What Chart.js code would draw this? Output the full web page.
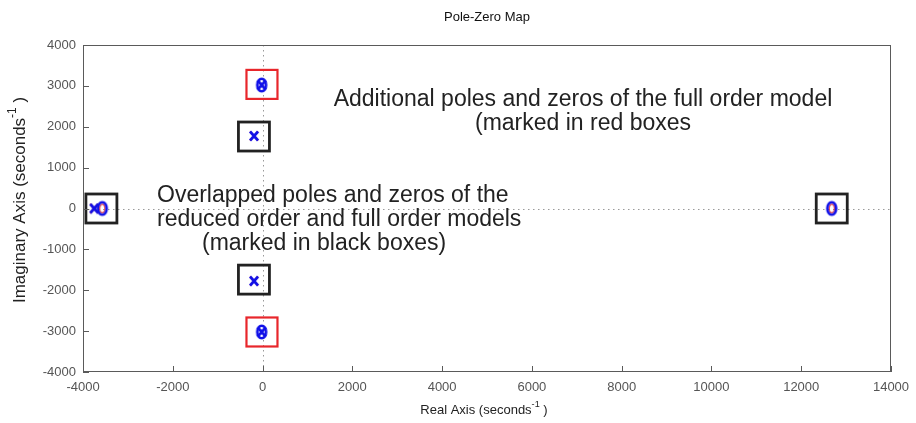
<!DOCTYPE html>
<html lang="en">
<head>
<meta charset="UTF-8">
<title>Pole-Zero Map</title>
<script src="https://cdn.jsdelivr.net/npm/chart.js"></script>
<style>
  body { margin: 0; background: #fff; }
</style>
</head>
<body>
<canvas id="pzmap" width="916" height="423"></canvas>
<script>
// full order model
const fullPolesRe = [-3750, -190, -190, -20, -20];
const fullPolesIm = [0, 1775, -1775, 3020, -3020];
const fullZerosRe = [-3570, -20, -20, 12680];
const fullZerosIm = [0, 3020, -3020, 0];
// reduced order model
const redPolesRe = [-3750, -190, -190];
const redPolesIm = [0, 1775, -1775];
const redZerosRe = [-3570, 12680];
const redZerosIm = [0, 0];

const xTicks = [-4000, -2000, 0, 2000, 4000, 6000, 8000, 10000, 12000, 14000];
const yTicks = [-4000, -3000, -2000, -1000, 0, 1000, 2000, 3000, 4000];

// highlight boxes: centre (re, im) and colour
const boxRe = [-3590, -13, -192, -192, -13, 12680];
const boxIm = [0, 3036, 1761, -1740, -3021, 0];
const boxColor = ['#222', '#e8262b', '#222', '#222', '#e8262b', '#222'];

const notes = [
  { text: 'Additional poles and zeros of the full order model', x: 583, y: 106, align: 'center' },
  { text: '(marked in red boxes', x: 583, y: 130, align: 'center' },
  { text: 'Overlapped poles and zeros of the', x: 157, y: 202, align: 'left' },
  { text: 'reduced order and full order models', x: 157, y: 226, align: 'left' },
  { text: '(marked in black boxes)', x: 202, y: 250, align: 'left' }
];

function pts(re, im) {
  return re.map((r, i) => ({ x: r, y: im[i] }));
}

function crossImg(color, w) {
  const c = document.createElement('canvas');
  c.width = 12; c.height = 12;
  const g = c.getContext('2d');
  g.strokeStyle = color; g.lineWidth = w; g.lineCap = 'butt';
  g.beginPath();
  g.moveTo(2, 1.5); g.lineTo(10, 10.5);
  g.moveTo(10, 1.5); g.lineTo(2, 10.5);
  g.stroke();
  return c;
}

function ringImg(color, rx, ry, w) {
  const c = document.createElement('canvas');
  c.width = 16; c.height = 18;
  const g = c.getContext('2d');
  g.strokeStyle = color; g.lineWidth = w;
  g.beginPath();
  g.ellipse(8, 9, rx, ry, 0, 0, Math.PI * 2);
  g.stroke();
  return c;
}

const FONT = "'Liberation Sans', Arial, sans-serif";

function supText(ctx, parts, x, y, size) {
  // parts: [before, superscript, after]; centred on x
  ctx.font = size + 'px ' + FONT;
  const w0 = ctx.measureText(parts[0]).width;
  const w2 = ctx.measureText(parts[2]).width;
  ctx.font = (size * 0.7) + 'px ' + FONT;
  const w1 = ctx.measureText(parts[1]).width;
  let cx = x - (w0 + w1 + w2) / 2;
  ctx.textAlign = 'left';
  ctx.textBaseline = 'middle';
  ctx.font = size + 'px ' + FONT;
  ctx.fillText(parts[0], cx, y); cx += w0;
  ctx.font = (size * 0.7) + 'px ' + FONT;
  ctx.fillText(parts[1], cx, y - size * 0.4); cx += w1;
  ctx.font = size + 'px ' + FONT;
  ctx.fillText(parts[2], cx, y);
}

const frame = {
  id: 'frame',
  beforeDatasetsDraw(chart) {
    const { ctx, chartArea: a, scales: { x, y } } = chart;
    ctx.save();
    // dotted lines through the origin
    ctx.strokeStyle = '#9a9a9a';
    ctx.lineWidth = 1;
    ctx.setLineDash([1.5, 3.5]);
    const x0 = Math.round(x.getPixelForValue(0)) + 0.5;
    const y0 = Math.round(y.getPixelForValue(0)) + 0.5;
    ctx.beginPath();
    ctx.moveTo(a.left, y0); ctx.lineTo(a.right, y0);
    ctx.moveTo(x0, a.top); ctx.lineTo(x0, a.bottom);
    ctx.stroke();
    ctx.setLineDash([]);
    // boxes
    boxRe.forEach((r, i) => {
      const px = x.getPixelForValue(r);
      const py = y.getPixelForValue(boxIm[i]);
      ctx.strokeStyle = boxColor[i];
      ctx.lineWidth = boxColor[i] === '#222' ? 2.8 : 2.2;
      ctx.strokeRect(px - 15.5, py - 14.5, 31, 29);
    });
    ctx.restore();
  },
  afterDraw(chart) {
    const { ctx, chartArea: a, scales: { x, y } } = chart;
    ctx.save();
    // axes box and inward ticks
    ctx.strokeStyle = '#5a5a5a';
    ctx.lineWidth = 1;
    ctx.strokeRect(a.left + 0.5, a.top + 0.5, a.right - a.left - 1, a.bottom - a.top - 1);
    ctx.beginPath();
    xTicks.forEach(v => {
      const px = Math.round(x.getPixelForValue(v)) + 0.5;
      ctx.moveTo(px, a.bottom); ctx.lineTo(px, a.bottom - 6);
    });
    yTicks.forEach(v => {
      const py = Math.round(y.getPixelForValue(v)) + 0.5;
      ctx.moveTo(a.left, py); ctx.lineTo(a.left + 6, py);
    });
    ctx.stroke();

    // titles
    ctx.fillStyle = '#111';
    ctx.font = '13px ' + FONT;
    ctx.textAlign = 'center';
    ctx.textBaseline = 'middle';
    ctx.fillText('Pole-Zero Map', (a.left + a.right) / 2, 17);
    ctx.fillStyle = '#222';
    supText(ctx, ['Real Axis (seconds', '-1', ' )'], 484, 410, 13);
    ctx.save();
    ctx.translate(20, 200);
    ctx.rotate(-Math.PI / 2);
    supText(ctx, ['Imaginary Axis (seconds', '-1', ' )'], 0, 0, 17);
    ctx.restore();

    // annotations
    ctx.fillStyle = '#222';
    ctx.font = '23px ' + FONT;
    ctx.textBaseline = 'alphabetic';
    notes.forEach(n => {
      ctx.textAlign = n.align;
      ctx.fillText(n.text, n.x, n.y);
    });
    ctx.restore();
  }
};

new Chart(document.getElementById('pzmap'), {
  type: 'scatter',
  data: {
    datasets: [
      { label: 'Full poles', data: pts(fullPolesRe, fullPolesIm), pointStyle: crossImg('#1010e8', 2.7) },
      { label: 'Full zeros', data: pts(fullZerosRe, fullZerosIm), pointStyle: ringImg('#1010e8', 4.4, 6.2, 2.6) },
      { label: 'Reduced poles', data: pts(redPolesRe, redPolesIm), pointStyle: crossImg('#e8262b', 1.5) },
      { label: 'Reduced zeros', data: pts(redZerosRe, redZerosIm), pointStyle: ringImg('#e8262b', 2.6, 4.4, 1.1) }
    ]
  },
  options: {
    responsive: false,
    animation: false,
    layout: { padding: { top: 45, right: 25, left: 0, bottom: 0 } },
    plugins: { legend: { display: false }, tooltip: { enabled: false } },
    scales: {
      x: {
        type: 'linear', min: -4000, max: 14000,
        afterBuildTicks: s => { s.ticks = xTicks.map(v => ({ value: v })); },
        afterFit: s => { s.height = 51; s.paddingLeft = 0; s.paddingRight = 0; },
        grid: { display: false, drawTicks: false },
        border: { display: false },
        ticks: { padding: 8, color: '#555', font: { family: FONT, size: 13 }, maxRotation: 0, autoSkip: false,
                 callback: v => String(v) }
      },
      y: {
        type: 'linear', min: -4000, max: 4000,
        afterBuildTicks: s => { s.ticks = yTicks.map(v => ({ value: v })); },
        afterFit: s => { s.width = 83; s.paddingTop = 0; s.paddingBottom = 0; },
        grid: { display: false, drawTicks: false },
        border: { display: false },
        ticks: { padding: 7, color: '#555', font: { family: FONT, size: 13 }, autoSkip: false,
                 callback: v => String(v) }
      }
    }
  },
  plugins: [frame]
});
</script>
</body>
</html>
